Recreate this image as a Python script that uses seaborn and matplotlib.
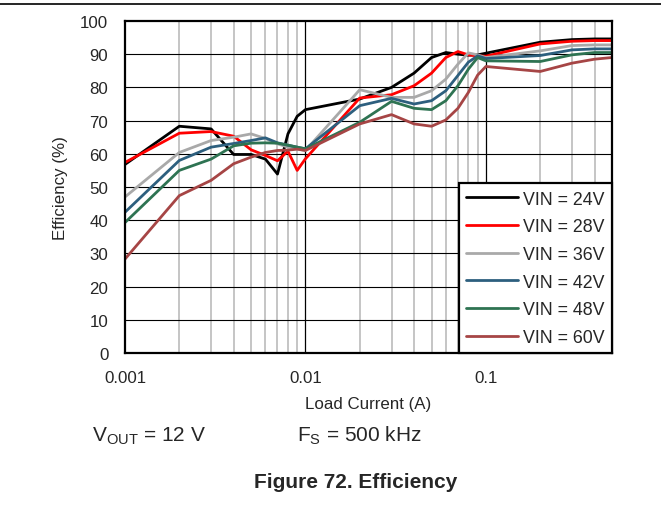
import matplotlib
matplotlib.use("Agg")
import matplotlib.pyplot as plt
from matplotlib.lines import Line2D
from matplotlib.ticker import FixedLocator, NullFormatter, FixedFormatter
import numpy as np
import pandas as pd
import seaborn as sns

# Load current (A)
load_current = [0.001, 0.002, 0.003, 0.004, 0.005, 0.006, 0.007, 0.008, 0.009,
                0.01, 0.02, 0.03, 0.04, 0.05, 0.06, 0.07, 0.08, 0.09,
                0.1, 0.2, 0.3, 0.4, 0.5]

# Efficiency (%) per input voltage
eff_24v = [56.8, 68.3, 67.5, 59.8, 59.8, 58.4, 53.9, 66.0, 71.3,
           73.3, 76.5, 80.0, 84.3, 89.0, 90.5, 90.0, 89.7, 89.8,
           90.3, 93.6, 94.4, 94.6, 94.6]
eff_28v = [57.4, 66.2, 66.7, 65.3, 61.2, 59.5, 57.9, 60.8, 55.0,
           58.5, 76.8, 77.8, 80.5, 84.3, 89.0, 90.8, 89.8, 89.5,
           89.4, 93.1, 93.9, 94.1, 94.1]
eff_36v = [47.0, 60.4, 64.0, 65.0, 66.0, 64.6, 63.0, 62.0, 61.5,
           61.0, 79.3, 77.0, 77.0, 79.0, 82.5, 87.0, 90.4, 89.8,
           89.0, 91.0, 92.6, 92.8, 92.8]
eff_42v = [42.4, 58.0, 62.0, 63.1, 64.0, 64.8, 63.3, 62.6, 62.0,
           61.5, 74.5, 76.7, 75.0, 76.0, 79.0, 83.6, 87.6, 89.5,
           88.7, 89.6, 91.3, 91.6, 91.6]
eff_48v = [39.3, 55.0, 58.4, 62.4, 63.2, 63.3, 63.2, 62.6, 62.0,
           61.5, 69.5, 75.8, 73.7, 73.3, 76.0, 80.5, 85.5, 89.0,
           88.0, 87.8, 89.8, 90.5, 90.5]
eff_60v = [28.3, 47.4, 52.0, 57.0, 59.0, 60.4, 61.0, 61.1, 61.4,
           61.0, 69.0, 71.8, 69.0, 68.3, 70.2, 73.7, 78.5, 83.7,
           86.3, 84.8, 87.3, 88.5, 89.0]

series_labels = ["VIN = 24V", "VIN = 28V", "VIN = 36V",
                 "VIN = 42V", "VIN = 48V", "VIN = 60V"]
series_values = [eff_24v, eff_28v, eff_36v, eff_42v, eff_48v, eff_60v]
series_colors = ["#000000", "#ff0000", "#a9a9a9", "#2d5f7e", "#2e7352", "#a64545"]

x_tick_values = [0.001, 0.01, 0.1]
x_tick_labels = ["0.001", "0.01", "0.1"]
y_tick_values = list(range(0, 101, 10))

df = pd.concat(
    [pd.DataFrame({"current": load_current, "efficiency": vals, "vin": lab})
     for lab, vals in zip(series_labels, series_values)],
    ignore_index=True,
)

sns.set_style("white")
plt.rcParams["font.family"] = ["Liberation Sans", "DejaVu Sans"]
plt.rcParams["mathtext.fontset"] = "custom"
plt.rcParams["mathtext.rm"] = "Liberation Sans"
plt.rcParams["mathtext.it"] = "Liberation Sans:italic"
plt.rcParams["mathtext.bf"] = "Liberation Sans:bold"

W, H = 661, 506
fig = plt.figure(figsize=(W / 100, H / 100), dpi=100)
ax = fig.add_axes([125 / W, 1 - 354 / H, (612 - 125) / W, (354 - 22) / H])

# grid: light minor verticals, black decade verticals, black horizontals
minor_x = [m * 10.0 ** e for e in (-3, -2, -1) for m in range(2, 10) if m * 10.0 ** e <= 0.5]
for xv in minor_x:
    ax.axvline(xv, color="#c0c0c0", lw=1.3, zorder=0.5)
for xv in x_tick_values[1:]:
    ax.axvline(xv, color="black", lw=0.9, zorder=0.6)
for yv in y_tick_values[1:-1]:
    ax.axhline(yv, color="black", lw=0.8, zorder=0.6)

sns.lineplot(data=df, x="current", y="efficiency", hue="vin",
             palette=dict(zip(series_labels, series_colors)),
             hue_order=series_labels, estimator=None, sort=False,
             lw=2.0, ax=ax, legend=True, zorder=2)
for ln in ax.get_lines():
    ln.set_solid_joinstyle("round")
    ln.set_solid_capstyle("round")

ax.set_xscale("log")
ax.set_xlim(0.001, 0.5)
ax.set_ylim(0, 100)
ax.xaxis.set_major_locator(FixedLocator(x_tick_values))
ax.xaxis.set_major_formatter(FixedFormatter(x_tick_labels))
ax.xaxis.set_minor_locator(FixedLocator(minor_x))
ax.xaxis.set_minor_formatter(NullFormatter())
ax.set_yticks(y_tick_values)
ax.tick_params(axis="both", which="both", length=0, labelsize=12.2)
ax.tick_params(axis="x", pad=12)
ax.tick_params(axis="y", pad=12)

for sp in ax.spines.values():
    sp.set_visible(True)
    sp.set_color("black")
    sp.set_linewidth(1.6)
    sp.set_zorder(5)

ax.set_xlabel("Load Current (A)", fontsize=12.2)
ax.set_ylabel("Efficiency (%)", fontsize=12.2)
ax.xaxis.set_label_coords(0.5, -(405 - 354) / (354 - 22), transform=ax.transAxes)
ax.xaxis.label.set_va("center")
ax.yaxis.set_label_coords(-(125 - 61) / (612 - 125), 0.5, transform=ax.transAxes)
ax.yaxis.label.set_va("center")

handles, labels = ax.get_legend_handles_labels()
for h in handles:
    h.set_linewidth(2.0)
leg = ax.legend(handles, labels, loc="lower right", bbox_to_anchor=(1, 0),
                borderaxespad=0, fontsize=12.8, frameon=True, fancybox=False,
                framealpha=1, edgecolor="black", handlelength=2.9,
                handletextpad=0.3, labelspacing=0.6, borderpad=0.4)
leg.get_frame().set_linewidth(1.6)
leg.set_zorder(6)

# figure annotations
fig.add_artist(Line2D([0, 1], [1 - 5 / H, 1 - 5 / H], color="black", lw=1.2))
fig.text(92 / W, 1 - 442 / H, r"V$_{\mathrm{OUT}}$ = 12 V", fontsize=15,
         ha="left", va="baseline")
fig.text(297 / W, 1 - 442 / H, r"F$_{\mathrm{S}}$ = 500 kHz", fontsize=15,
         ha="left", va="baseline")
fig.text(355.5 / W, 1 - 488 / H, "Figure 72. Efficiency", fontsize=15,
         fontweight="bold", ha="center", va="baseline")

fig.savefig("out.png", dpi=100)
